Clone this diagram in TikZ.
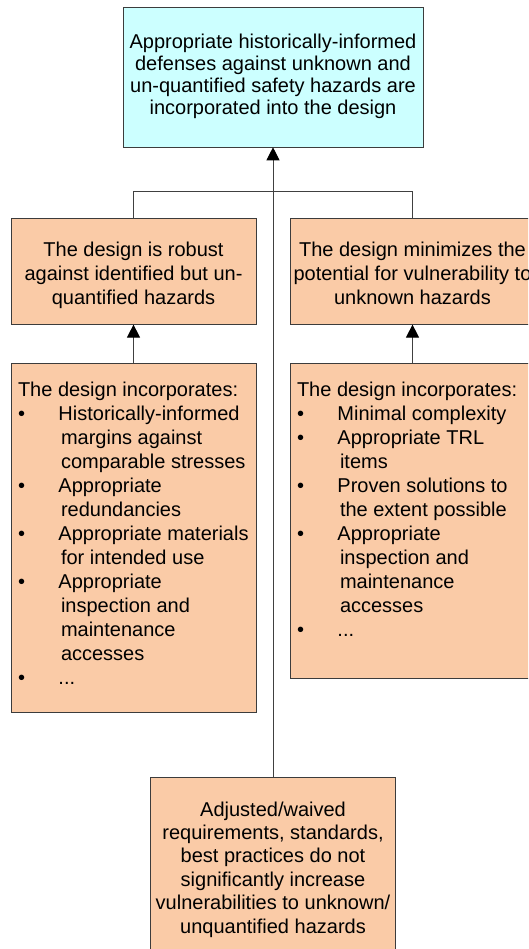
\documentclass[tikz,border=0pt]{standalone}
\usepackage{fontspec}
\setmainfont{Liberation Sans}
\usetikzlibrary{arrows.meta}
\definecolor{peach}{RGB}{250,203,167}
\definecolor{paleblue}{RGB}{204,255,255}
\definecolor{edgecol}{RGB}{60,60,60}
\newcommand{\lbul}{\makebox[40.5pt][l]{\textbullet}}
\newcommand{\lcont}{\hspace*{43pt}}
\begin{document}
\begin{tikzpicture}[x=1pt,y=-1pt,
  box/.style={draw=edgecol, line width=0.9pt, inner sep=0pt, outer sep=0pt},
  ctext/.style={inner sep=0pt, outer sep=0pt, anchor=north, align=center},
  ltext/.style={inner sep=0pt, outer sep=0pt, anchor=north west, align=left,
    font=\fontsize{20}{24}\selectfont},
  conn/.style={draw=black!75, line width=1pt},
  arr/.style={conn, -{Triangle[width=13pt,length=13pt,color=black]}}]
\clip (0,0) rectangle (528,949);
\fill[white] (0,0) rectangle (528,949);
% boxes
\node[box, fill=paleblue, minimum width=300pt, minimum height=140pt] (top) at (273,77.3) {};
\node[box, fill=peach, minimum width=245pt, minimum height=106pt] (l2l) at (133.5,271.6) {};
\node[box, fill=peach, minimum width=245pt, minimum height=106pt] (l2r) at (412.5,271.6) {};
\node[box, fill=peach, minimum width=245pt, minimum height=349pt] (l3l) at (133.5,537.5) {};
\node[box, fill=peach, minimum width=245pt, minimum height=315pt] (l3r) at (412.5,520.5) {};
\node[box, fill=peach, minimum width=245pt, minimum height=200pt] (bot) at (273,877) {};
% texts
\node[ctext, font=\fontsize{20}{21.7}\selectfont] (toptxt) at (273,34.5)
  {Appropriate historically-informed\\defenses against unknown and\\un-quantified safety hazards are\\incorporated into the design};
\node[ctext, font=\fontsize{20}{23.6}\selectfont] (l2ltxt) at (133.5,242.5)
  {The design is robust\\against identified but un-\\quantified hazards};
\node[ctext, font=\fontsize{20}{23.6}\selectfont] (l2rtxt) at (412.5,242.5)
  {The design minimizes the\\potential for vulnerability to\\unknown hazards};
\node[ltext] (l3ltxt) at (18,382.5)
  {The design incorporates:\\
   \lbul Historically-informed\\
   \lcont margins against\\
   \lcont comparable stresses\\
   \lbul Appropriate\\
   \lcont redundancies\\
   \lbul Appropriate materials\\
   \lcont for intended use\\
   \lbul Appropriate\\
   \lcont inspection and\\
   \lcont maintenance\\
   \lcont accesses\\
   \lbul ...};
\node[ltext] (l3rtxt) at (297,382.5)
  {The design incorporates:\\
   \lbul Minimal complexity\\
   \lbul Appropriate TRL\\
   \lcont items\\
   \lbul Proven solutions to\\
   \lcont the extent possible\\
   \lbul Appropriate\\
   \lcont inspection and\\
   \lcont maintenance\\
   \lcont accesses\\
   \lbul ...};
\node[ctext, font=\fontsize{20}{23.4}\selectfont] (bottxt) at (273,801.5)
  {Adjusted/waived\\requirements, standards,\\best practices do not\\significantly increase\\vulnerabilities to unknown/\\unquantified hazards};
% connectors
\coordinate (join) at (273,192);
\draw[conn] (l2l.north) |- (join);
\draw[conn] (l2r.north) |- (join);
\draw[arr] (bot.north) -- (top.south);
\draw[arr] (l3l.north) -- (l2l.south);
\draw[arr] (l3r.north) -- (l2r.south);
\end{tikzpicture}
\end{document}
